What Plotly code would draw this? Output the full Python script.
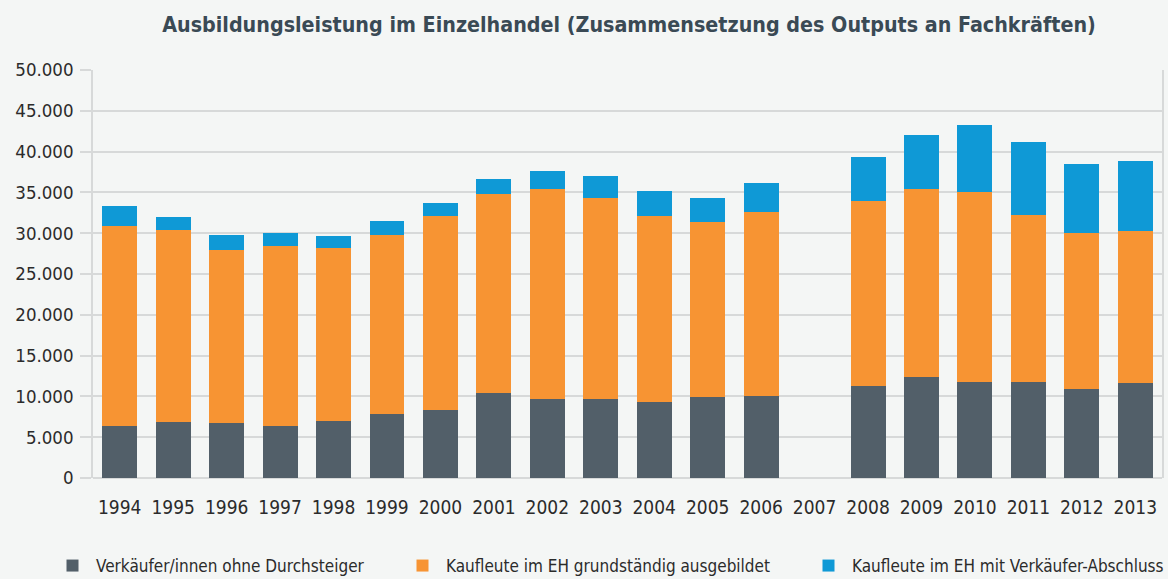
import plotly.graph_objects as go

years = ["1994", "1995", "1996", "1997", "1998", "1999", "2000", "2001", "2002", "2003",
         "2004", "2005", "2006", "2007", "2008", "2009", "2010", "2011", "2012", "2013"]

verkaeufer = [6370, 6860, 6740, 6370, 6990, 7840, 8330, 10420, 9680, 9680,
              9310, 9930, 10050, None, 11270, 12380, 11760, 11760, 10910, 11640]
kaufleute_grund = [24550, 23530, 21200, 22060, 21200, 21940, 23780, 24380, 25740, 24630,
                   22800, 21440, 22550, None, 22680, 23040, 23290, 20470, 19110, 18630]
kaufleute_verk = [2410, 1600, 1840, 1590, 1470, 1720, 1590, 1840, 2200, 2700,
                  3060, 2940, 3550, None, 5390, 6610, 8210, 8950, 8460, 8580]

names = ["Verkäufer/innen ohne Durchsteiger",
         "Kaufleute im EH grundständig ausgebildet",
         "Kaufleute im EH mit Verkäufer-Abschluss"]
colors = ["#525f69", "#f79433", "#0f99d6"]
series = [verkaeufer, kaufleute_grund, kaufleute_verk]
title = "Ausbildungsleistung im Einzelhandel (Zusammensetzung des Outputs an Fachkräften)"

FONT = "DejaVu Sans Condensed, sans-serif"
TXT = "#2b2b2b"
GRID = "#d7d9d9"

fig = go.Figure()
legend_ids = ["legend", "legend2", "legend3"]
for name, vals, col, lg in zip(names, series, colors, legend_ids):
    fig.add_trace(go.Bar(x=years, y=vals, name=name, marker=dict(color=col, line=dict(width=0)),
                         width=0.654, legend=lg))

bg = "#f4f6f5"
leg_x = [54, 404, 810]
common_leg = dict(orientation="h", xref="container", yref="container", yanchor="middle",
                  xanchor="left", bgcolor="rgba(0,0,0,0)",
                  font=dict(family=FONT, size=17, color=TXT), itemwidth=37)
layout_legs = {}
for lg, lx in zip(legend_ids, leg_x):
    d = dict(common_leg)
    d["x"] = (lx - 5) / 1168
    d["y"] = 1 - 566 / 579
    layout_legs[lg] = d

fig.update_layout(
    width=1168, height=579,
    paper_bgcolor=bg, plot_bgcolor=bg,
    barmode="stack",
    separators=",.",
    margin=dict(l=93, r=4, t=70, b=101),
    title=dict(text="<b>" + title + "</b>", x=629 / 1168, xanchor="center", y=1 - 25 / 579,
               yanchor="middle", font=dict(family=FONT, size=21.3, color="#3a4a55")),
    font=dict(family=FONT, size=19, color=TXT),
    xaxis=dict(type="category", range=[-0.5, 19.5], showgrid=False, ticks="",
               showline=False, tickfont=dict(family=FONT, size=19, color=TXT),
               ticklabelstandoff=16),
    yaxis=dict(range=[0, 50000], dtick=5000, tickformat=",d", showgrid=True,
               gridcolor=GRID, gridwidth=1.5, zeroline=True, zerolinecolor=GRID,
               zerolinewidth=1.5, ticks="outside", ticklen=11, tickcolor=GRID, tickwidth=1.5,
               showline=True, linecolor=GRID, linewidth=1.5, mirror=True,
               ticklabelstandoff=3,
               tickfont=dict(family=FONT, size=18.5, color=TXT)),
    showlegend=True,
    **layout_legs,
)

fig.write_html("out.html", config={"displayModeBar": False},
               post_script="document.body.style.margin='0px';")
